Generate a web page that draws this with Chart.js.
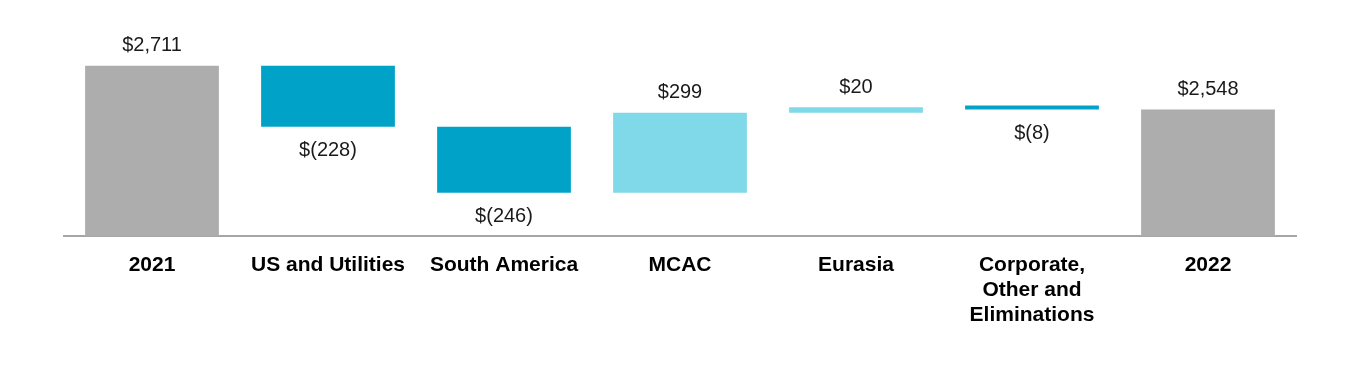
<!DOCTYPE html>
<html lang="en">
<head>
  <meta charset="UTF-8" />
  <title>Bridge 2021 to 2022</title>
  <script src="https://cdn.jsdelivr.net/npm/chart.js"></script>
  <style>
    html, body { margin: 0; padding: 0; background: #fff; }
    .wrap { width: 1360px; height: 390px; position: relative; }
  </style>
</head>
<body>
  <div class="wrap"><canvas id="bridgeChart"></canvas></div>

  <script>
    // data
    const categories = ['2021', 'US and Utilities', 'South America', 'MCAC', 'Eurasia', ['Corporate,', 'Other and', 'Eliminations'], '2022'];
    const startTotal = 2711;
    const segmentChanges = [-228, -246, 299, 20, -8];
    const endTotal = 2548;

    const GRAY = '#adadad';
    const DARK = '#00a3c7';
    const LIGHT = '#80d9e8';

    // build floating ranges for the waterfall
    const ranges = [[0, startTotal]];
    const shownValues = [startTotal];
    const colors = [GRAY];
    let running = startTotal;
    segmentChanges.forEach(v => {
      ranges.push([running, running + v]);
      shownValues.push(v);
      colors.push(v < 0 ? DARK : LIGHT);
      running += v;
    });
    ranges.push([0, endTotal]);
    shownValues.push(endTotal);
    colors.push(GRAY);

    function fmt(v) {
      const s = Math.abs(v).toLocaleString('en-US');
      return v < 0 ? '$(' + s + ')' : '$' + s;
    }

    // value labels above positive bars, below negative ones
    const valueLabels = {
      id: 'valueLabels',
      afterDatasetsDraw(chart) {
        const ctx = chart.ctx;
        const meta = chart.getDatasetMeta(0);
        ctx.save();
        ctx.font = '20px "Liberation Sans", Arial, sans-serif';
        ctx.fillStyle = '#1a1a1a';
        ctx.textAlign = 'center';
        ctx.textBaseline = 'middle';
        meta.data.forEach((bar, i) => {
          const v = shownValues[i];
          const top = Math.min(bar.y, bar.base);
          const bottom = Math.max(bar.y, bar.base);
          if (v < 0) {
            ctx.fillText(fmt(v), bar.x, bottom + 24);
          } else {
            ctx.fillText(fmt(v), bar.x, top - 20);
          }
        });
        ctx.restore();
      }
    };

    new Chart(document.getElementById('bridgeChart'), {
      type: 'bar',
      data: {
        labels: categories,
        datasets: [{
          data: ranges,
          backgroundColor: colors,
          borderWidth: 0,
          barPercentage: 0.76,
          categoryPercentage: 1,
          minBarLength: 4
        }]
      },
      options: {
        responsive: true,
        maintainAspectRatio: false,
        animation: false,
        layout: { padding: { top: 42, bottom: 45, left: 64, right: 64 } },
        plugins: {
          legend: { display: false },
          tooltip: { enabled: false }
        },
        scales: {
          x: {
            z: 1,
            grid: { display: false, drawTicks: false },
            border: { display: true, color: '#a6a6a6', width: 2 },
            ticks: {
              color: '#000',
              padding: 17,
              autoSkip: false,
              maxRotation: 0,
              font: { family: '"Liberation Sans", Arial, sans-serif', size: 21, weight: 'bold', lineHeight: '25px' }
            }
          },
          y: {
            display: false,
            min: 2075,
            max: 2800
          }
        }
      },
      plugins: [valueLabels]
    });
  </script>
</body>
</html>
